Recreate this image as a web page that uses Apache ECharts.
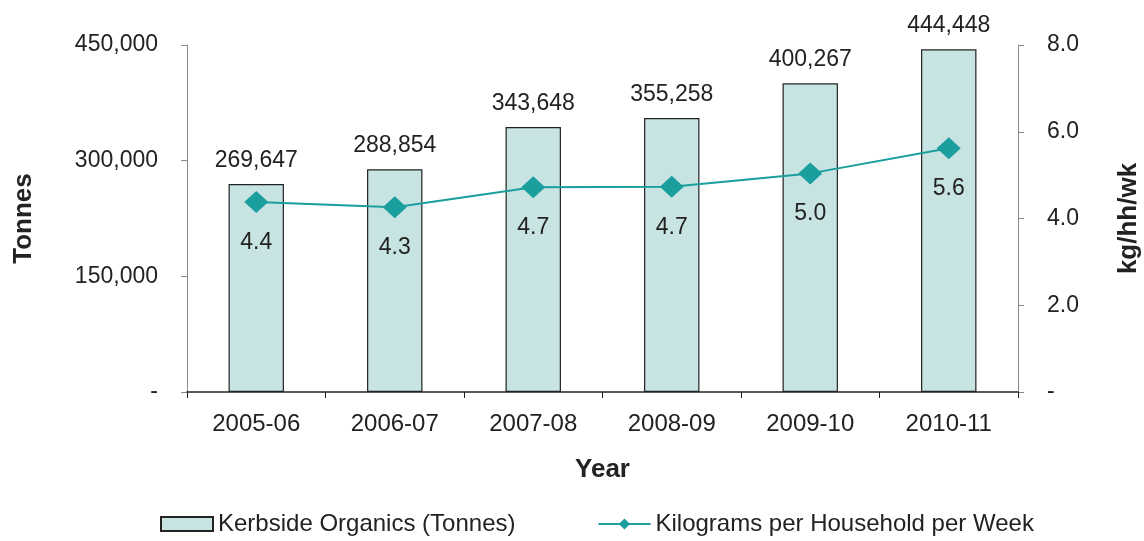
<!DOCTYPE html>
<html><head><meta charset="utf-8">
<script src="https://cdn.jsdelivr.net/npm/echarts@6/dist/echarts.min.js"></script>
<style>html,body{margin:0;padding:0;background:#fff}#c{width:1144px;height:541px}</style>
</head><body><div id="c"></div>
<script>
const categories = ['2005-06','2006-07','2007-08','2008-09','2009-10','2010-11'];
const tonnes = [269647, 288854, 343648, 355258, 400267, 444448];
const kgPerHhPerWk = [4.38, 4.26, 4.72, 4.73, 5.04, 5.62];
const seriesNames = ['Kerbside Organics (Tonnes)', 'Kilograms per Household per Week'];

const FONT = 'Liberation Sans, Arial, sans-serif';
const fmtInt = v => v === 0 ? '-' : Math.round(v).toLocaleString('en-US');
const fmtDec = v => v === 0 ? '-' : v.toFixed(1);

const chart = echarts.init(document.getElementById('c'), null, {renderer:'canvas'});
chart.setOption({
  animation: false,
  textStyle: {fontFamily: FONT},
  grid: {left: 187, right: 126, top: 45, bottom: 149, containLabel: false, outerBoundsMode: 'none'},
  legend: {
    left: 155, top: 507, itemWidth: 52, itemHeight: 14, itemGap: 82,
    textStyle: {fontSize: 24, color: '#222', fontFamily: FONT},
    data: [
      {name: seriesNames[0], icon: 'rect'},
      {name: seriesNames[1]}
    ]
  },
  xAxis: {
    type: 'category', data: categories,
    name: 'Year', nameLocation: 'middle', nameGap: 65,
    nameTextStyle: {fontSize: 26, fontWeight: 'bold', color: '#222'},
    axisLine: {lineStyle: {color: '#222', width: 1.5}},
    axisTick: {show: true, length: 6, lineStyle: {color: '#222'}},
    axisLabel: {fontSize: 24, color: '#222', margin: 20}
  },
  yAxis: [
    {
      type: 'value', min: 0, max: 450000, interval: 150000,
      name: 'Tonnes', nameLocation: 'middle', nameGap: 150, nameRotate: 90,
      nameTextStyle: {fontSize: 26, fontWeight: 'bold', color: '#222'},
      axisLine: {show: true, lineStyle: {color: '#888'}},
      axisTick: {show: true, length: 6, lineStyle: {color: '#888'}},
      splitLine: {show: false},
      axisLabel: {fontSize: 23, color: '#222', margin: 29, formatter: fmtInt}
    },
    {
      type: 'value', min: 0, max: 8, interval: 2,
      name: 'kg/hh/wk', nameLocation: 'middle', nameGap: 98, nameRotate: 90,
      nameTextStyle: {fontSize: 26, fontWeight: 'bold', color: '#222'},
      axisLine: {show: true, lineStyle: {color: '#888'}},
      axisTick: {show: true, length: 6, lineStyle: {color: '#888'}},
      splitLine: {show: false},
      axisLabel: {fontSize: 23, color: '#222', margin: 29, formatter: fmtDec}
    }
  ],
  series: [
    {
      name: seriesNames[0], type: 'bar', yAxisIndex: 0, data: tonnes,
      barWidth: '40%',
      itemStyle: {color: '#c8e4e2', borderColor: '#222', borderWidth: 1.2},
      label: {show: true, position: 'top', distance: 12, fontSize: 23, color: '#222',
        formatter: p => fmtInt(p.value)}
    },
    {
      name: seriesNames[1], type: 'line', yAxisIndex: 1, data: kgPerHhPerWk,
      symbol: 'diamond', symbolSize: [24, 22],
      lineStyle: {color: '#1a9e9e', width: 2},
      itemStyle: {color: '#1a9e9e'},
      label: {show: true, position: 'bottom', distance: 18, fontSize: 23, color: '#222',
        formatter: p => fmtDec(p.value)}
    }
  ]
});
</script></body></html>
